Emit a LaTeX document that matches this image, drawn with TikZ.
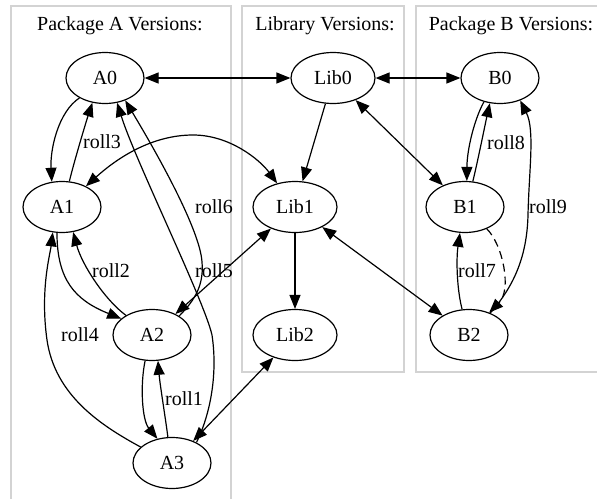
\documentclass[tikz,border=0pt]{standalone}
\usepackage{fontspec}
\setmainfont{Liberation Serif}
\usetikzlibrary{arrows.meta,shapes.geometric}
\definecolor{clusterline}{RGB}{211,211,211}
\begin{document}
\begin{tikzpicture}[x=1pt,y=-1pt,
  txt/.style={font=\fontsize{20}{24}\selectfont},
  ver/.style={txt, draw, ellipse, line width=1.2pt, minimum width=78pt,
              minimum height=51pt, inner sep=0pt},
  libver/.style={ver, minimum width=84pt},
  cluster/.style={draw=clusterline, line width=1.3pt},
  title/.style={txt, anchor=base, inner sep=0pt},
  lbl/.style={txt, anchor=base, inner sep=0pt},
  edge/.style={line width=1.2pt, >={Triangle[length=14pt,width=11pt]}}]
\useasboundingbox (0,0) rectangle (597,498);

% cluster frames
\begin{scope}
  \clip (0,0) rectangle (597,498);
  \draw[cluster] (11,6) rectangle (231,530);
  \draw[cluster] (242,6) rectangle (404,372);
  \draw[cluster] (416,6) rectangle (620,372);
\end{scope}

% cluster titles
\node[title] (tA) at (120,30) {Package A Versions:};
\node[title] (tL) at (325,30) {Library Versions:};
\node[title] (tB) at (511,30) {Package B Versions:};

% version nodes
\node[ver] (A0) at (105,78) {A0};
\node[ver] (A1) at (62,207) {A1};
\node[ver] (A2) at (152,335) {A2};
\node[ver] (A3) at (172,463) {A3};
\node[libver] (Lib0) at (333,78) {Lib0};
\node[libver] (Lib1) at (295,207) {Lib1};
\node[libver] (Lib2) at (295,335) {Lib2};
\node[ver] (B0) at (500,78) {B0};
\node[ver] (B1) at (465,207) {B1};
\node[ver] (B2) at (469,335) {B2};

% dependency links
\draw[edge,<->] (A0) -- (Lib0);
\draw[edge,<->] (Lib0) -- (B0);
\draw[edge,->] (Lib0) -- (Lib1);
\draw[edge,<->] (Lib0) -- (B1);
\draw[edge,->] (Lib1) -- (Lib2);
\draw[edge,<->] (Lib1) -- (B2);
\draw[edge,<->] (Lib1) -- (A2);
\draw[edge,<->] (Lib2) -- (A3);
\draw[edge,<->] (A1.41) .. controls (115,160) and (150,135) .. (193,135)
                        .. controls (230,135) and (260,160) .. (Lib1.127);

% package A upgrades and rollbacks
\draw[edge,->] (A0.218) .. controls (58,112) and (50,150) .. (A1.112);
\draw[edge,->] (A1.74) .. controls (74,162) and (86,122) .. (A0.243);
\draw[edge,->] (A1.259) .. controls (57,280) and (75,300) .. (A2.152);
\draw[edge,->] (A2.143) .. controls (105,300) and (82,265) .. (A1.294);
\draw[edge,->] (A2.255) .. controls (140,385) and (142,420) .. (A3.121);
\draw[edge,->] (A3.99) .. controls (165,415) and (160,385) .. (A2.283);
\draw[edge,->] (A3.153) .. controls (100,425) and (55,395) .. (47,340)
                        .. controls (40,290) and (50,255) .. (A1.250);
\draw[edge,->] (A2.35) .. controls (195,300) and (204,285) .. (202,262)
                       .. controls (200,230) and (158,155) .. (A0.312);
\draw[edge,->] (A3.40) .. controls (210,415) and (218,375) .. (212,335)
                       .. controls (204,300) and (135,160) .. (A0.296);

\node[lbl] (roll3) at (102,148) {roll3};
\node[lbl] (roll6) at (214,213) {roll6};
\node[lbl] (roll2) at (111,277) {roll2};
\node[lbl] (roll5) at (214,277) {roll5};
\node[lbl] (roll4) at (80,341) {roll4};
\node[lbl] (roll1) at (184,405) {roll1};

% package B upgrades and rollbacks
\draw[edge,->] (B0.236) .. controls (474,120) and (467,150) .. (B1.86);
\draw[edge,->] (B1.73) .. controls (478,160) and (485,125) .. (B0.248);
\draw[edge,->] (B2.105) .. controls (457,290) and (456,260) .. (B1.259);
\draw[edge,->,dash pattern=on 8pt off 5pt] (B1.315) .. controls (503,245) and (512,290) .. (B2.48);
\draw[edge,->] (B2.46) .. controls (515,285) and (527,255) .. (528,215)
                       .. controls (529,170) and (535,130) .. (B0.312);

\node[lbl] (roll8) at (506,149) {roll8};
\node[lbl] (roll9) at (548,213) {roll9};
\node[lbl] (roll7) at (477,277) {roll7};
\end{tikzpicture}
\end{document}
